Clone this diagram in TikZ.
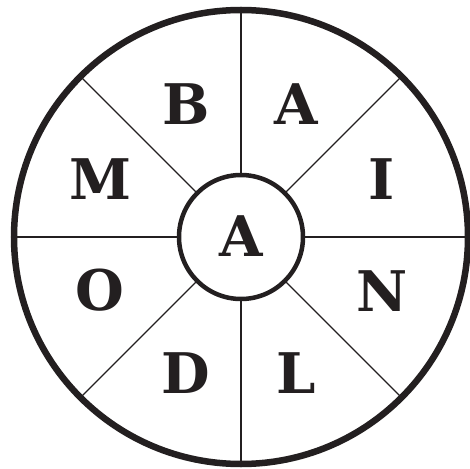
\documentclass[tikz,border=0pt]{standalone}
\usepackage{fontspec}
\usepackage{tikz}
\usetikzlibrary{positioning}
\usepackage{xcolor}
\newfontfamily\wheelfont{DejaVu Serif}
\definecolor{inkblack}{RGB}{35,31,32}

\begin{document}
\begin{tikzpicture}[x=1pt, y=1pt,
  every node/.style={inner sep=0pt, outer sep=0pt},
  rim/.style={draw=inkblack, circle, line width=6.5pt, minimum size=454pt},
  hub/.style={draw=inkblack, circle, line width=4.5pt, minimum size=124pt},
  spoke/.style={draw=inkblack, line width=1.3pt},
  letter/.style={text=inkblack, font=\wheelfont\fontsize{56}{56}\selectfont\bfseries}
]
\useasboundingbox (-241,-231) rectangle (229,237);

%--- Rings ---
\node[rim] (R) at (0,0) {};
\node[hub] (H) at (0,0) {};

%--- Spokes ---
\draw[spoke] (H.north) -- (R.north);
\draw[spoke] (H.south) -- (R.south);
\draw[spoke] (H.east) -- (R.east);
\draw[spoke] (H.west) -- (R.west);
\draw[spoke] (H.north east) -- (R.north east);
\draw[spoke] (H.north west) -- (R.north west);
\draw[spoke] (H.south east) -- (R.south east);
\draw[spoke] (H.south west) -- (R.south west);

%--- Letters ---
\node[letter] (cA) at (0, 1)       {A};
\node[letter] (lB) at (-55, 133)   {B};
\node[letter] (lA) at (55, 133)    {A};
\node[letter] (lM) at (-141, 58)   {M};
\node[letter] (lI) at (141, 58)    {I};
\node[letter] (lO) at (-141, -53)  {O};
\node[letter] (lN) at (141, -54)   {N};
\node[letter] (lD) at (-55, -136)  {D};
\node[letter] (lL) at (55, -136)   {L};

\end{tikzpicture}
\end{document}
